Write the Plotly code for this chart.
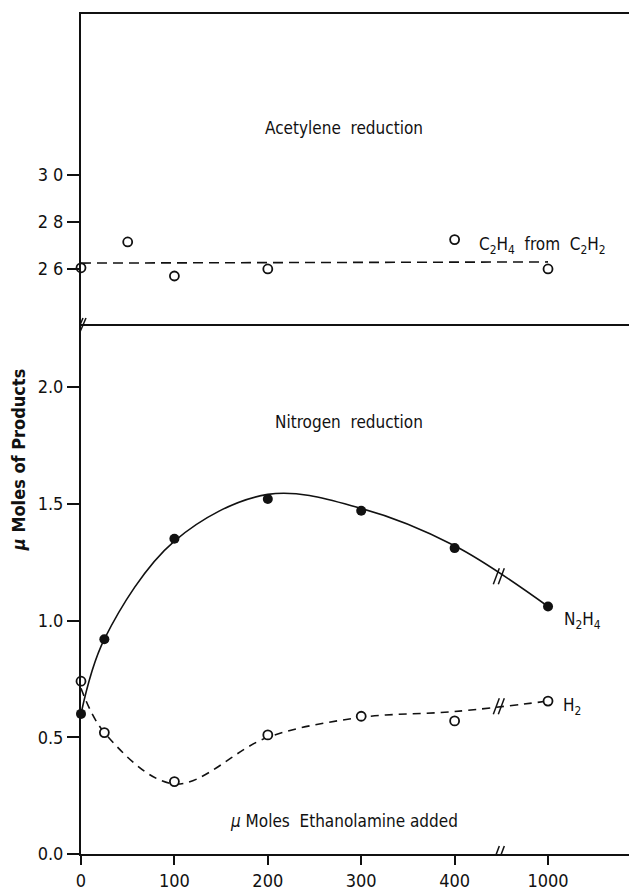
import plotly.graph_objects as go

# ---------------- data ----------------
x_tick_values = [0, 100, 200, 300, 400, 1000]
x_tick_labels = ["0", "100", "200", "300", "400", "1000"]

# Acetylene reduction (top panel)
c2h4_x = [0, 50, 100, 200, 400, 1000]
c2h4_y = [26.05, 27.15, 25.7, 26.0, 27.25, 26.0]
c2h4_fit_x = [0, 1000]
c2h4_fit_y = [26.25, 26.3]
top_tick_values = [26, 28, 30]
top_tick_labels = ["2 6", "2 8", "3 0"]

# Nitrogen reduction (bottom panel)
n2_x = [0, 25, 100, 200, 300, 400, 1000]
n2h4_y = [0.60, 0.92, 1.35, 1.52, 1.47, 1.31, 1.06]
n2h4_curve_y = [0.60, 0.92, 1.34, 1.54, 1.48, 1.32, 1.06]
h2_y = [0.74, 0.52, 0.31, 0.51, 0.59, 0.57, 0.655]
h2_curve_y = [0.71, 0.52, 0.30, 0.50, 0.585, 0.61, 0.655]
bottom_tick_values = [0.0, 0.5, 1.0, 1.5, 2.0]
bottom_tick_labels = ["0.0", "0.5", "1.0", "1.5", "2.0"]

# ---------------- broken x scale ----------------
LAST_LINEAR = 400
BROKEN_POS = 500          # where the 1000 point is placed on the broken axis
BREAK_AT = (LAST_LINEAR + BROKEN_POS) / 2


def xpos(v):
    return v if v <= LAST_LINEAR else BROKEN_POS


def xs(values):
    return [xpos(v) for v in values]


FONT = "Liberation Sans Narrow, DejaVu Sans Condensed, Arial Narrow, sans-serif"
BLACK = "#111111"
SPLIT = 0.631

fig = go.Figure()

# top panel
fig.add_trace(go.Scatter(x=xs(c2h4_fit_x), y=c2h4_fit_y, mode="lines",
                         line=dict(color=BLACK, width=1.6, dash="10px,6px"),
                         xaxis="x2", yaxis="y2", showlegend=False))
fig.add_trace(go.Scatter(x=xs(c2h4_x), y=c2h4_y, mode="markers",
                         marker=dict(symbol="circle-open", size=9, color=BLACK,
                                     line=dict(width=1.8)),
                         cliponaxis=False, xaxis="x2", yaxis="y2", showlegend=False))

# bottom panel curves
fig.add_trace(go.Scatter(x=xs(n2_x), y=n2h4_curve_y, mode="lines",
                         line=dict(color=BLACK, width=1.6, shape="spline", smoothing=1.0),
                         showlegend=False))
fig.add_trace(go.Scatter(x=xs(n2_x), y=h2_curve_y, mode="lines",
                         line=dict(color=BLACK, width=1.6, shape="spline", smoothing=1.0,
                                   dash="8px,6px"),
                         showlegend=False))
fig.add_trace(go.Scatter(x=xs(n2_x), y=h2_y, mode="markers",
                         marker=dict(symbol="circle", size=9, color="white",
                                     line=dict(width=1.8, color=BLACK)),
                         cliponaxis=False, showlegend=False))
fig.add_trace(go.Scatter(x=xs(n2_x), y=n2h4_y, mode="markers",
                         marker=dict(symbol="circle", size=10, color=BLACK),
                         cliponaxis=False, showlegend=False))


# break marks "//"
def break_mark(xa, ya, xref="x", yref="y"):
    for dx in (-5, 0):
        fig.add_shape(type="line", xref=xref, yref=yref,
                      xsizemode="pixel", ysizemode="pixel",
                      xanchor=xa, yanchor=ya,
                      x0=dx - 3, x1=dx + 3, y0=-8, y1=8,
                      line=dict(color=BLACK, width=1.5))


def y_at_break(curve):
    i = n2_x.index(LAST_LINEAR)
    return (curve[i] + curve[i + 1]) / 2


break_mark(BREAK_AT, 0)
break_mark(BREAK_AT, y_at_break(n2h4_curve_y))
break_mark(BREAK_AT, y_at_break(h2_curve_y))
fig.add_shape(type="line", xref="x", yref="paper", xsizemode="pixel", ysizemode="pixel",
              xanchor=0, yanchor=SPLIT, x0=-4, x1=2, y0=-8, y1=6,
              line=dict(color=BLACK, width=1.5))
fig.add_shape(type="line", xref="x", yref="paper", xsizemode="pixel", ysizemode="pixel",
              xanchor=0, yanchor=SPLIT, x0=-1, x1=5, y0=-8, y1=6,
              line=dict(color=BLACK, width=1.5))

# text annotations
txt = dict(family=FONT, size=17, color=BLACK)
fig.add_annotation(x=282, y=32.0, xref="x2", yref="y2", text="Acetylene  reduction",
                   showarrow=False, font=txt)
fig.add_annotation(x=424, y=27.0, xref="x2", yref="y2", xanchor="left",
                   text="C<sub>2</sub>H<sub>4</sub>  from  C<sub>2</sub>H<sub>2</sub>",
                   showarrow=False, font=txt)
fig.add_annotation(x=287, y=1.85, xref="x", yref="y", text="Nitrogen  reduction",
                   showarrow=False, font=txt)
fig.add_annotation(x=515, y=1.0, xref="x", yref="y", xanchor="left",
                   text="N<sub>2</sub>H<sub>4</sub>", showarrow=False, font=txt)
fig.add_annotation(x=514, y=0.63, xref="x", yref="y", xanchor="left",
                   text="H<sub>2</sub>", showarrow=False, font=txt)
fig.add_annotation(x=157, y=0.14, xref="x", yref="y", xanchor="left",
                   text="<i>μ</i> Moles  Ethanolamine added", showarrow=False, font=txt)
fig.add_annotation(x=-0.115, y=0.47, xref="paper", yref="paper", xanchor="center",
                   text="<b><i>μ</i> Moles of Products</b>",
                   textangle=-90, showarrow=False, font=dict(family=FONT, size=18, color=BLACK))

axis_common = dict(showgrid=False, zeroline=False, showline=True, linecolor=BLACK,
                   linewidth=2, tickcolor=BLACK, tickwidth=1.6, ticklen=12,
                   tickfont=dict(family=FONT, size=18, color=BLACK))

fig.update_layout(
    width=629, height=892,
    margin=dict(l=81, r=0, t=14, b=38),
    paper_bgcolor="white", plot_bgcolor="white",
    xaxis=dict(axis_common, domain=[0, 1], anchor="y", range=[0, 586.7],
               tickvals=xs(x_tick_values), ticktext=x_tick_labels, ticks="outside",
               ticklen=9),
    yaxis=dict(axis_common, domain=[0, SPLIT], anchor="x", range=[0, 2.27],
               tickvals=bottom_tick_values, ticktext=bottom_tick_labels, ticks="outside"),
    xaxis2=dict(showgrid=False, zeroline=False, showline=True, mirror=True,
                linecolor=BLACK, linewidth=2, anchor="y2", matches="x",
                showticklabels=False, ticks=""),
    yaxis2=dict(axis_common, domain=[SPLIT, 1], anchor="x2", range=[23.66, 36.85],
                tickvals=top_tick_values, ticktext=top_tick_labels, ticks="outside"),
)

fig.write_html("out.html")
